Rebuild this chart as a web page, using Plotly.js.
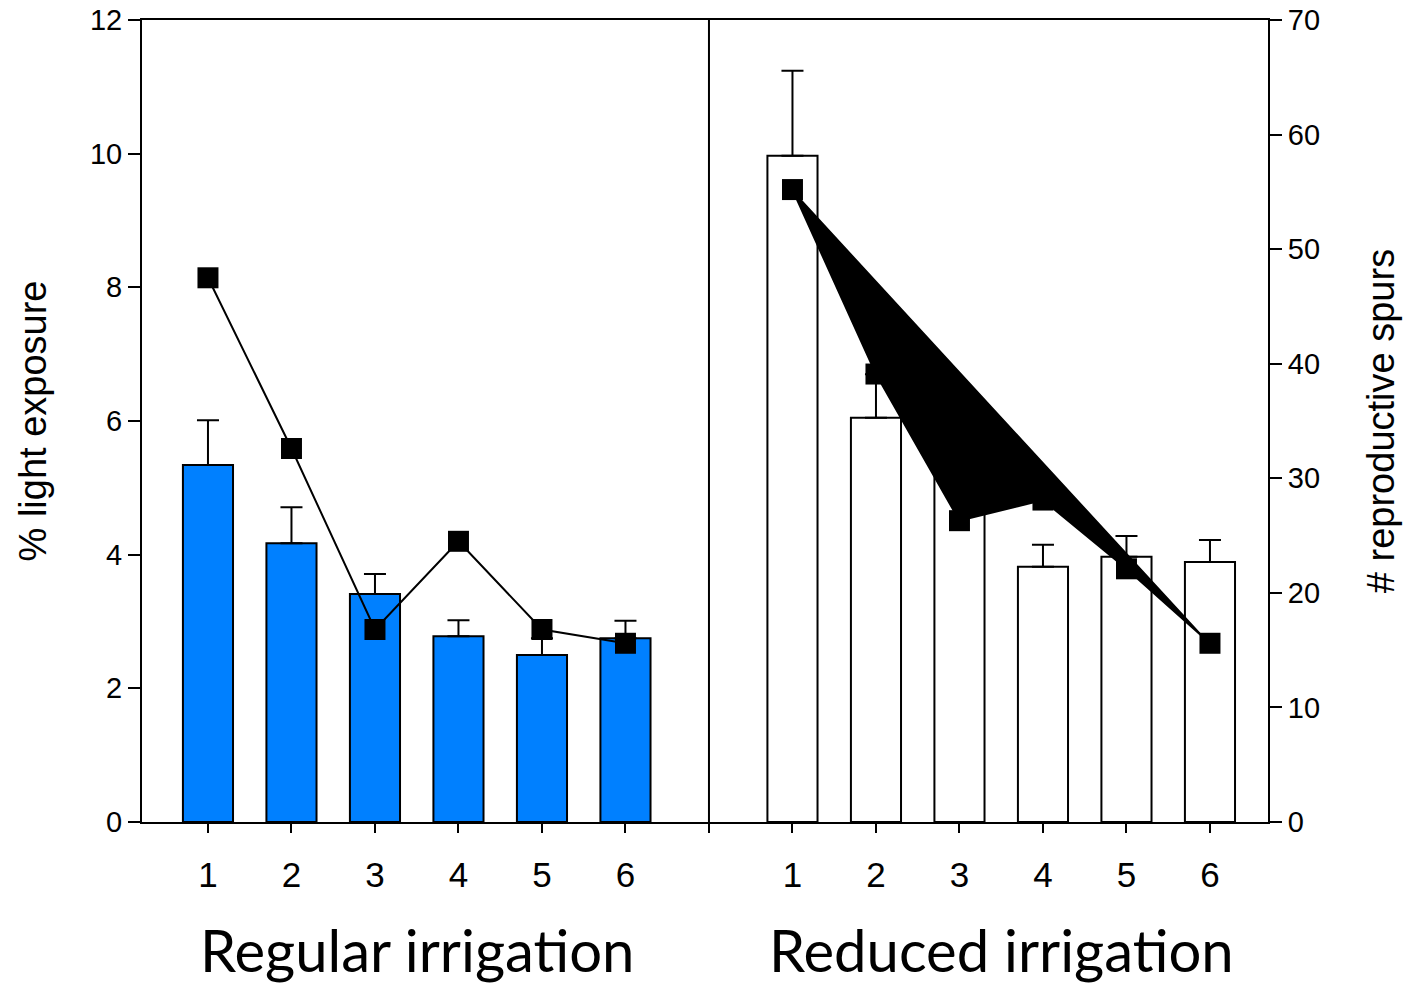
<!DOCTYPE html>
<html>
<head>
<meta charset="utf-8">
<script src="https://cdn.plot.ly/plotly-3.0.1.min.js"></script>
<style>html,body{margin:0;padding:0;background:#fff;}#chart{width:1409px;height:989px;}</style>
</head>
<body>
<div id="chart"></div>
<script>
// Positions on the category axis: regular 1..6, reduced 1..6 (after a gap slot)
var regularX = [1, 2, 3, 4, 5, 6];
var reducedX = [8, 9, 10, 11, 12, 13];
var tickPositions = [1, 2, 3, 4, 5, 6, 7, 8, 9, 10, 11, 12, 13];
var tickLabels = ['1', '2', '3', '4', '5', '6', '', '1', '2', '3', '4', '5', '6'];

// % light exposure (bars, left axis)
var regularLight = [5.34, 4.17, 3.41, 2.78, 2.50, 2.75];
var regularLightErr = [0.67, 0.54, 0.30, 0.24, 0.25, 0.26];
var reducedLight = [9.97, 6.05, 5.30, 3.82, 3.97, 3.89];
var reducedLightErr = [1.27, 0.65, 0.55, 0.33, 0.31, 0.33];

// # reproductive spurs (squares, right axis)
var regularSpurs = [47.5, 32.6, 16.8, 24.5, 16.8, 15.6];
var reducedSpurs = [55.2, 39.1, 26.3, 28.1, 22.1, 15.6];

var groupLabels = ['Regular irrigation', 'Reduced irrigation'];
var groupCenters = [3.5, 10.5];

var zeros = [0, 0, 0, 0, 0, 0];

var traces = [
  {
    type: 'bar', x: regularX, y: regularLight, width: 0.6, yaxis: 'y',
    marker: {color: '#0080FF', line: {color: '#000', width: 2}},
    error_y: {type: 'data', symmetric: false, array: regularLightErr, arrayminus: zeros,
              color: '#000', thickness: 2, width: 11},
    showlegend: false, hoverinfo: 'skip'
  },
  {
    type: 'bar', x: reducedX, y: reducedLight, width: 0.6, yaxis: 'y',
    marker: {color: '#FFFFFF', line: {color: '#000', width: 2}},
    error_y: {type: 'data', symmetric: false, array: reducedLightErr, arrayminus: zeros,
              color: '#000', thickness: 2, width: 11},
    showlegend: false, hoverinfo: 'skip'
  },
  {
    type: 'scatter', mode: 'lines+markers', x: regularX, y: regularSpurs, yaxis: 'y2',
    line: {color: '#000', width: 2},
    marker: {symbol: 'square', size: 21, color: '#000', line: {width: 0}},
    showlegend: false, hoverinfo: 'skip'
  },
  {
    type: 'scatter', mode: 'lines+markers', x: reducedX, y: reducedSpurs, yaxis: 'y2',
    fill: 'toself', fillcolor: '#000',
    line: {color: '#000', width: 2},
    marker: {symbol: 'square', size: 21, color: '#000', line: {width: 0}},
    showlegend: false, hoverinfo: 'skip'
  }
];

var annotations = groupLabels.map(function (t, i) {
  return {
    text: t, x: groupCenters[i], xref: 'x', y: -0.159, yref: 'paper',
    xanchor: 'center', yanchor: 'middle', showarrow: false, borderpad: 0,
    font: {family: 'Lato, "Open Sans", sans-serif', size: 58, color: '#000'}
  };
});

var layout = {
  width: 1409, height: 989,
  margin: {l: 142, r: 141, t: 20, b: 167},
  paper_bgcolor: '#fff', plot_bgcolor: '#fff',
  barmode: 'overlay',
  font: {family: '"Liberation Sans", Arial, sans-serif', color: '#000'},
  xaxis: {
    range: [0.21, 13.695], tickmode: 'array', tickvals: tickPositions, ticktext: tickLabels,
    ticks: 'outside', ticklen: 9, tickwidth: 2, tickcolor: '#000',
    showline: true, linecolor: '#000', linewidth: 2, mirror: true,
    showgrid: false, zeroline: false,
    tickfont: {size: 35, color: '#000'}, ticklabelstandoff: 12
  },
  yaxis: {
    range: [0, 12], tickvals: [0, 2, 4, 6, 8, 10, 12],
    ticks: 'outside', ticklen: 12, tickwidth: 2, tickcolor: '#000',
    showline: true, linecolor: '#000', linewidth: 2,
    showgrid: false, zeroline: false,
    tickfont: {size: 29, color: '#000'},
    title: {text: '% light exposure', font: {size: 38, color: '#000'}, standoff: 32}
  },
  yaxis2: {
    range: [0, 70], tickvals: [0, 10, 20, 30, 40, 50, 60, 70],
    overlaying: 'y', side: 'right',
    ticks: 'outside', ticklen: 12, tickwidth: 2, tickcolor: '#000',
    showline: true, linecolor: '#000', linewidth: 2,
    showgrid: false, zeroline: false,
    tickfont: {size: 29, color: '#000'},
    title: {text: '# reproductive spurs', font: {size: 38, color: '#000'}, standoff: 48}
  },
  shapes: [
    {type: 'line', xref: 'x', yref: 'paper', x0: 7, x1: 7, y0: 0, y1: 1,
     line: {color: '#000', width: 2}}
  ],
  annotations: annotations
};

Plotly.newPlot('chart', traces, layout, {displayModeBar: false, staticPlot: true});
</script>
</body>
</html>
